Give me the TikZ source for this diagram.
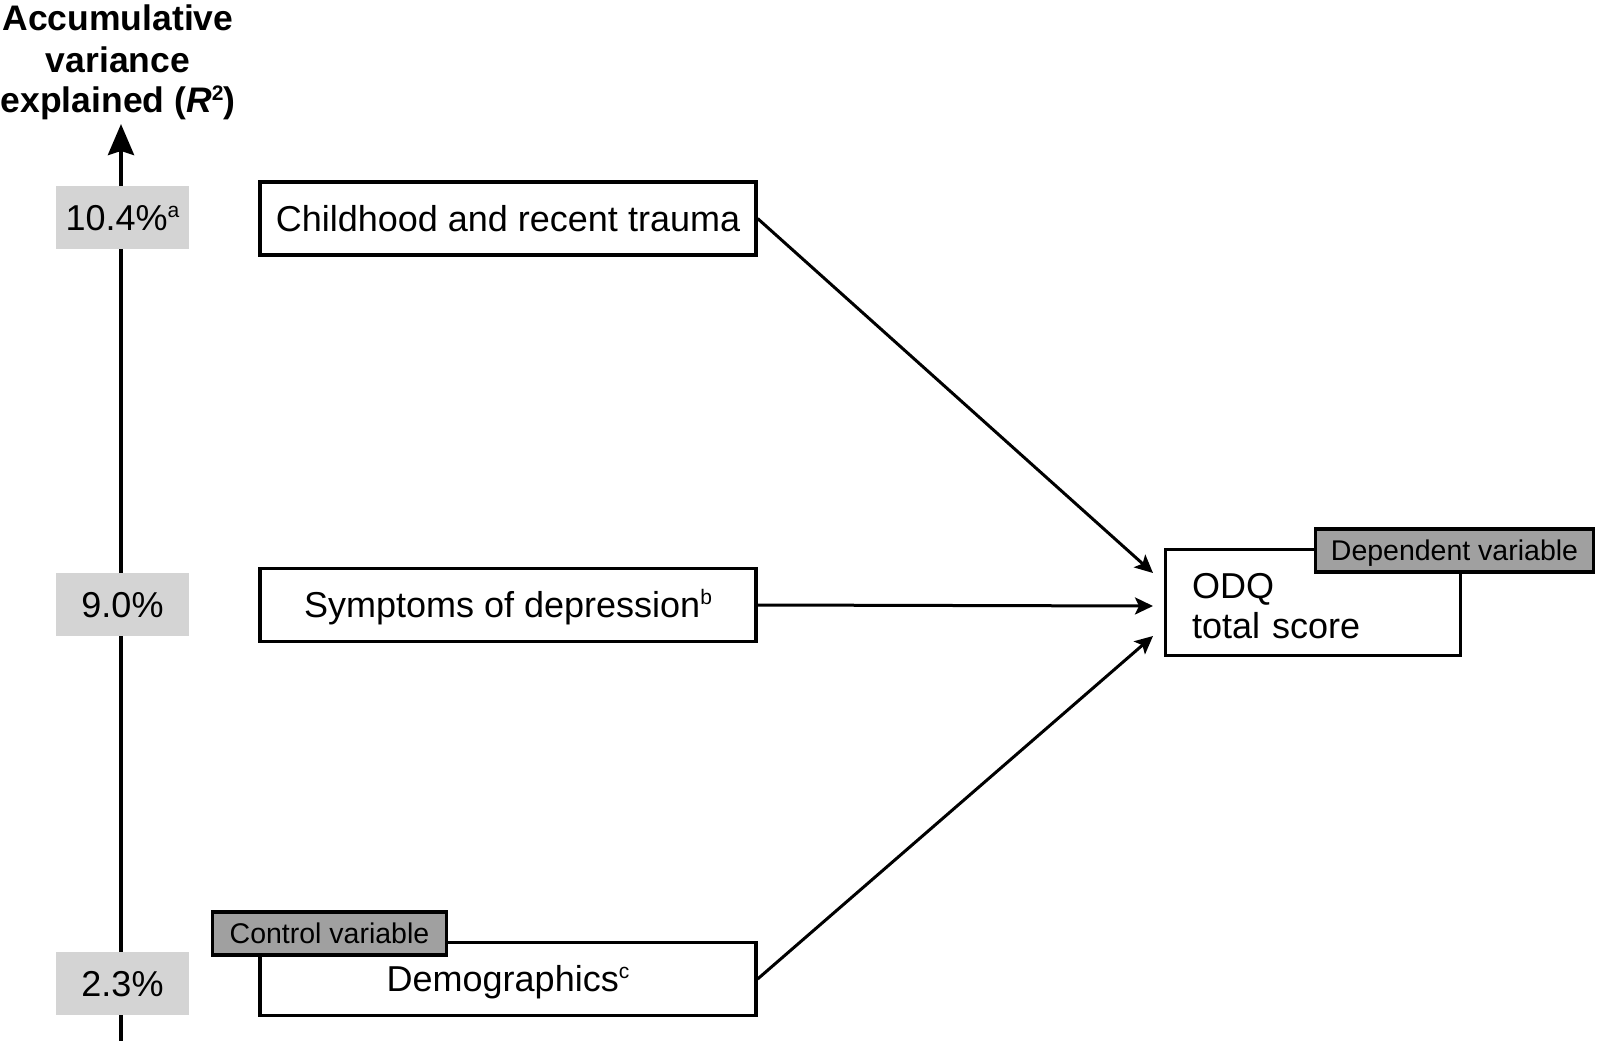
\documentclass[tikz,border=0pt]{standalone}
\usepackage{fontspec}
\setmainfont{Liberation Sans}
\usetikzlibrary{arrows.meta}
\definecolor{lightbox}{HTML}{D4D4D4}
\definecolor{darkbox}{HTML}{A0A0A0}
\newcommand\supx[1]{\raisebox{0.36em}{\fontsize{21}{21}\selectfont #1}}
\begin{document}
\begin{tikzpicture}[x=1pt,y=-1pt,
  mainfont/.style={font=\fontsize{36}{40}\selectfont},
  varbox/.style={draw, line width=3.2pt, minimum width=496pt, minimum height=73pt, inner sep=0pt, text height=25.8pt, text depth=0pt, mainfont},
  pct/.style={fill=lightbox, minimum width=133pt, minimum height=63pt, inner sep=0pt, text height=25.8pt, text depth=0pt, mainfont},
  tagbox/.style={draw, fill=darkbox, line width=3.2pt, inner sep=0pt, minimum height=43pt, text height=20.4pt, text depth=0pt, font=\fontsize{28.5}{30}\selectfont},
  conn/.style={line width=3pt, -{Stealth[length=18pt,width=17pt,inset=4pt]}},
  axisline/.style={line width=4pt, -{Stealth[length=31pt,width=26pt,inset=4pt]}}
]
\useasboundingbox (0,0) rectangle (1598,1041);

% axis
\coordinate (axbot) at (121,1041);
\coordinate (axtop) at (121,124);
\draw[axisline] (axbot) -- (axtop);

\node[anchor=north, align=center, inner sep=0pt, font=\bfseries\fontsize{35.5}{40}\selectfont] (title) at (118,5)
  {Accumulative\\[2pt]variance\\[0pt]explained (\textit{R}\supx{2})};

% percentages
\node[pct] (p1) at (122.5,217.5) {10.4\%\supx{a}};
\node[pct] (p2) at (122.5,604.5) {9.0\%};
\node[pct] (p3) at (122.5,983.5) {2.3\%};

% predictor boxes
\node[varbox] (child) at (508,218.5) {Childhood and recent trauma};
\node[varbox] (symp) at (508,605) {Symptoms of depression\supx{b}};
\node[varbox] (demo) at (508,979) {Demographics\supx{c}};
\node[tagbox, minimum width=234pt] (ctrl) at (329.5,933.5) {Control variable};

% outcome
\node[draw, line width=3.2pt, minimum width=295pt, minimum height=106pt, inner sep=0pt,
      text width=242pt, align=left, font=\fontsize{36}{40}\selectfont] (odq) at (1313,602.5) {\rule{0pt}{32pt}ODQ\\total score};
\node[tagbox, minimum width=278pt] (dep) at (1454.5,550.5) {Dependent variable};

% connectors
\coordinate (t1) at (1153,573);
\coordinate (t2) at (1153,606);
\coordinate (t3) at (1153,636);
\draw[conn] (child.east) -- (t1);
\draw[conn] (symp.east) -- (t2);
\draw[conn] (demo.east) -- (t3);
\end{tikzpicture}
\end{document}
